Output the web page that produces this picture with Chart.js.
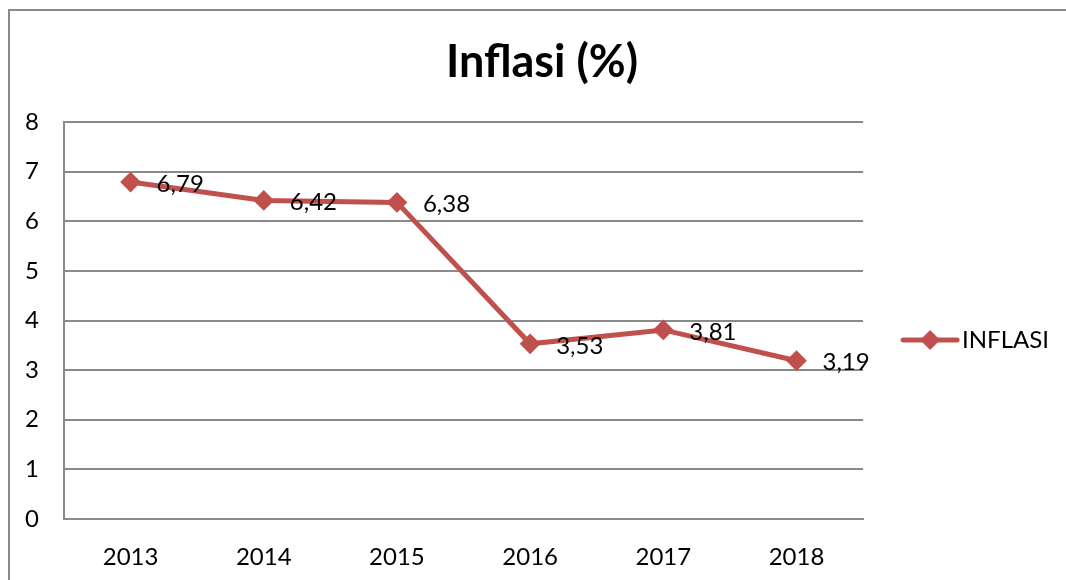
<!DOCTYPE html>
<html>
<head>
<meta charset="utf-8">
<title>Inflasi (%)</title>
<script src="https://cdn.jsdelivr.net/npm/chart.js@4"></script>
<style>
    html, body { margin: 0; padding: 0; background: #fff; }
    .myChart { display: block; }
</style>
</head>
<body>
<canvas class="myChart" width="1066" height="580"></canvas>
<script>
const years = ["2013", "2014", "2015", "2016", "2017", "2018"];
const inflasi = [6.79, 6.42, 6.38, 3.53, 3.81, 3.19];
const seriesName = "INFLASI";
const chartTitle = "Inflasi (%)";

const red = "#C0504D";
const gray = "#8a8a8a";
const font = "Lato";

// legend symbol: short line with a diamond in the middle
function legendSymbol() {
    const c = document.createElement("canvas");
    c.width = 60;
    c.height = 22;
    const g = c.getContext("2d");
    g.strokeStyle = red;
    g.lineWidth = 5;
    g.lineCap = "round";
    g.beginPath();
    g.moveTo(3, 11);
    g.lineTo(57, 11);
    g.stroke();
    g.fillStyle = red;
    g.beginPath();
    g.moveTo(30, 1);
    g.lineTo(40, 11);
    g.lineTo(30, 21);
    g.lineTo(20, 11);
    g.closePath();
    g.fill();
    return c;
}

// outer frame of the chart object (left and top edges are visible)
const framePlugin = {
    id: "frame",
    beforeDraw(chart) {
        const ctx = chart.ctx;
        ctx.save();
        ctx.fillStyle = "#fff";
        ctx.fillRect(0, 0, chart.width, chart.height);
        ctx.strokeStyle = gray;
        ctx.lineWidth = 2;
        ctx.beginPath();
        ctx.moveTo(9, chart.height);
        ctx.lineTo(9, 10);
        ctx.lineTo(chart.width, 10);
        ctx.stroke();
        ctx.restore();
    }
};

// value labels to the right of each point
const valueLabels = {
    id: "valueLabels",
    afterDatasetsDraw(chart) {
        const ctx = chart.ctx;
        const meta = chart.getDatasetMeta(0);
        ctx.save();
        ctx.font = "24px " + font;
        ctx.fillStyle = "#000";
        ctx.textAlign = "left";
        ctx.textBaseline = "middle";
        meta.data.forEach((pt, i) => {
            const txt = inflasi[i].toFixed(2).replace(".", ",");
            ctx.fillText(txt, pt.x + 26, pt.y + 2);
        });
        ctx.restore();
    }
};

const ctx = document.querySelector(".myChart").getContext("2d");

new Chart(ctx, {
    type: "line",
    data: {
        labels: years,
        datasets: [{
            label: seriesName,
            data: inflasi,
            borderColor: red,
            backgroundColor: red,
            borderWidth: 5,
            pointStyle: "rectRot",
            pointRadius: 9,
            pointBorderWidth: 2,
            pointBackgroundColor: red,
            pointBorderColor: red,
            tension: 0
        }]
    },
    options: {
        responsive: false,
        animation: false,
        devicePixelRatio: 1,
        layout: {
            padding: { left: 25, right: 7, top: 0, bottom: 0 }
        },
        plugins: {
            title: {
                display: true,
                text: chartTitle,
                color: "#000",
                font: { family: font, size: 45, weight: "bold" },
                padding: { top: 35, bottom: 33 }
            },
            legend: {
                position: "right",
                fullSize: false,
                // empty title only pushes the entry a bit lower, like the original
                title: {
                    display: true,
                    text: " ",
                    font: { size: 10 },
                    padding: { top: 0, bottom: 27 }
                },
                labels: {
                    usePointStyle: true,
                    pointStyle: legendSymbol(),
                    pointStyleWidth: 40,
                    padding: 47,
                    color: "#000",
                    font: { family: font, size: 24 }
                }
            },
            tooltip: { enabled: false }
        },
        scales: {
            x: {
                offset: true,
                grid: { display: false },
                border: { display: true, color: gray, width: 2 },
                ticks: {
                    color: "#000",
                    font: { family: font, size: 24 },
                    padding: 16,
                    maxRotation: 0
                },
                afterFit(scale) { scale.height = 61; }
            },
            y: {
                min: 0,
                max: 8,
                grid: { color: gray, lineWidth: 2, drawTicks: false },
                border: { display: true, color: gray, width: 2 },
                ticks: {
                    stepSize: 1,
                    color: "#000",
                    font: { family: font, size: 24 },
                    padding: 25
                },
                afterFit(scale) { scale.width = 39; }
            }
        }
    },
    plugins: [framePlugin, valueLabels]
});
</script>
</body>
</html>
